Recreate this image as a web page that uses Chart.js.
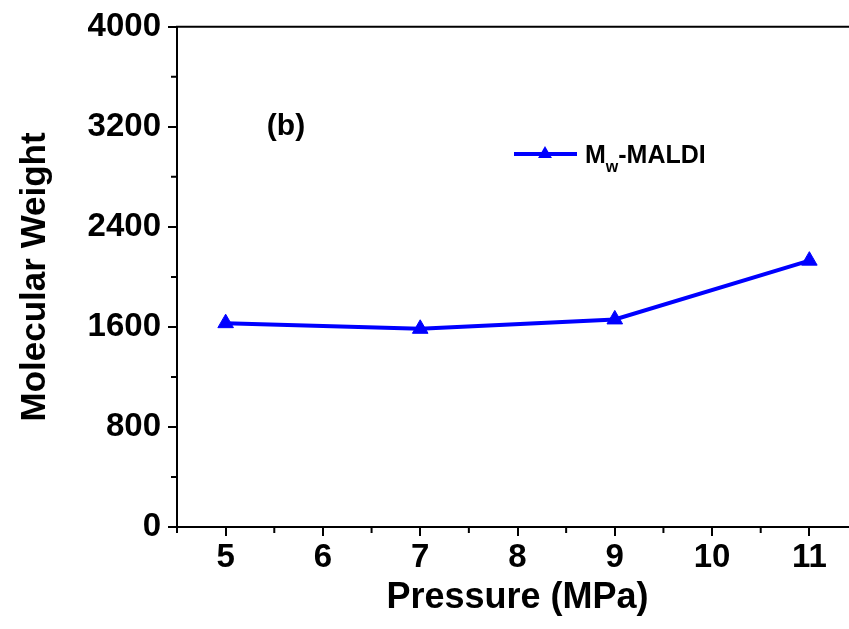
<!DOCTYPE html>
<html>
<head>
<meta charset="utf-8">
<script src="https://cdn.jsdelivr.net/npm/chart.js@4.4.0/dist/chart.umd.min.js"></script>
<style>
html, body { margin:0; padding:0; background:#fff; overflow:hidden; }
#wrap { width:849px; height:629px; overflow:hidden; }
</style>
</head>
<body>
<div id="wrap"><canvas id="chart" width="870" height="629"></canvas></div>
<script>
var pressure = [5, 7, 9, 11];
var mwMaldi = [1630, 1585, 1660, 2130];
var xTicks = [5, 6, 7, 8, 9, 10, 11];
var xMinor = [4.5, 5.5, 6.5, 7.5, 8.5, 9.5, 10.5, 11.5];
var yTicks = [0, 800, 1600, 2400, 3200, 4000];
var yMinor = [400, 1200, 2000, 2800, 3600];

var FONT = '"Liberation Sans", Arial, sans-serif';
Chart.defaults.font.family = FONT;
Chart.defaults.color = '#000';

var extras = {
  id: 'extras',
  afterDraw: function(chart) {
    var ctx = chart.ctx, a = chart.chartArea;
    var xs = chart.scales.x, ys = chart.scales.y;
    ctx.save();
    ctx.strokeStyle = '#000';
    ctx.lineWidth = 2;
    // top frame line
    ctx.beginPath();
    ctx.moveTo(a.left - 1, a.top);
    ctx.lineTo(a.right, a.top);
    ctx.stroke();
    // minor ticks
    ctx.beginPath();
    xMinor.forEach(function(v) {
      var px = xs.getPixelForValue(v);
      ctx.moveTo(px, a.bottom);
      ctx.lineTo(px, a.bottom + 6);
    });
    yMinor.forEach(function(v) {
      var py = ys.getPixelForValue(v);
      ctx.moveTo(a.left, py);
      ctx.lineTo(a.left - 6, py);
    });
    ctx.stroke();

    // panel label
    ctx.fillStyle = '#000';
    ctx.font = 'bold 30px ' + FONT;
    ctx.textAlign = 'center';
    ctx.textBaseline = 'middle';
    ctx.fillText('(b)', 286, 127);

    // legend
    var ds = chart.data.datasets[0];
    var ly = 154;
    ctx.strokeStyle = ds.borderColor;
    ctx.lineWidth = 4;
    ctx.beginPath();
    ctx.moveTo(514, ly);
    ctx.lineTo(577, ly);
    ctx.stroke();
    var r = 8, side = r * Math.sqrt(3), h = side * Math.sqrt(3) / 2;
    ctx.fillStyle = ds.backgroundColor;
    ctx.beginPath();
    ctx.moveTo(545 - side / 2, ly + h / 3);
    ctx.lineTo(545 + side / 2, ly + h / 3);
    ctx.lineTo(545, ly - 2 * h / 3);
    ctx.closePath();
    ctx.fill();

    ctx.fillStyle = '#000';
    ctx.textAlign = 'left';
    ctx.textBaseline = 'alphabetic';
    ctx.font = 'bold 25px ' + FONT;
    ctx.fillText('M', 585, 163);
    var mw = ctx.measureText('M').width;
    ctx.font = 'bold 16px ' + FONT;
    ctx.fillText('w', 585 + mw, 172);
    var ww = ctx.measureText('w').width;
    ctx.font = 'bold 25px ' + FONT;
    ctx.fillText('-MALDI', 585 + mw + ww, 163);
    ctx.restore();
  }
};

new Chart(document.getElementById('chart'), {
  type: 'line',
  data: {
    datasets: [{
      label: 'Mw-MALDI',
      data: pressure.map(function(p, i) { return { x: p, y: mwMaldi[i] }; }),
      borderColor: '#0000ff',
      backgroundColor: '#0000ff',
      borderWidth: 4,
      pointStyle: 'triangle',
      pointRadius: 9,
      pointBorderWidth: 1,
      tension: 0,
      clip: false
    }]
  },
  options: {
    responsive: false,
    animation: false,
    layout: { padding: { top: 24, right: 12, bottom: 0, left: 0 } },
    plugins: { legend: { display: false }, tooltip: { enabled: false } },
    scales: {
      x: {
        type: 'linear',
        min: 4.5,
        max: 11.5,
        afterBuildTicks: function(s) { s.ticks = xTicks.map(function(v) { return { value: v }; }); },
        afterFit: function(s) { s.height = 102; },
        grid: { drawOnChartArea: false, drawTicks: true, tickLength: 9, color: '#000', lineWidth: 2 },
        border: { display: true, color: '#000', width: 2 },
        ticks: { font: { size: 33, weight: 'bold' }, color: '#000', padding: 2, maxRotation: 0 },
        title: { display: true, text: 'Pressure (MPa)', font: { size: 36, weight: 'bold' }, color: '#000', padding: { top: 0, bottom: 9 } }
      },
      y: {
        min: 0,
        max: 4000,
        afterBuildTicks: function(s) { s.ticks = yTicks.map(function(v) { return { value: v }; }); },
        afterFit: function(s) { s.width = 177; },
        grid: { drawOnChartArea: false, drawTicks: true, tickLength: 9, color: '#000', lineWidth: 2 },
        border: { display: true, color: '#000', width: 2 },
        ticks: { font: { size: 33, weight: 'bold' }, color: '#000', padding: 7,
          callback: function(v) { return String(v); } },
        title: { display: true, text: 'Molecular Weight', font: { size: 35, weight: 'bold' }, color: '#000', padding: { top: 14, bottom: 0 } }
      }
    }
  },
  plugins: [extras]
});
</script>
</body>
</html>
